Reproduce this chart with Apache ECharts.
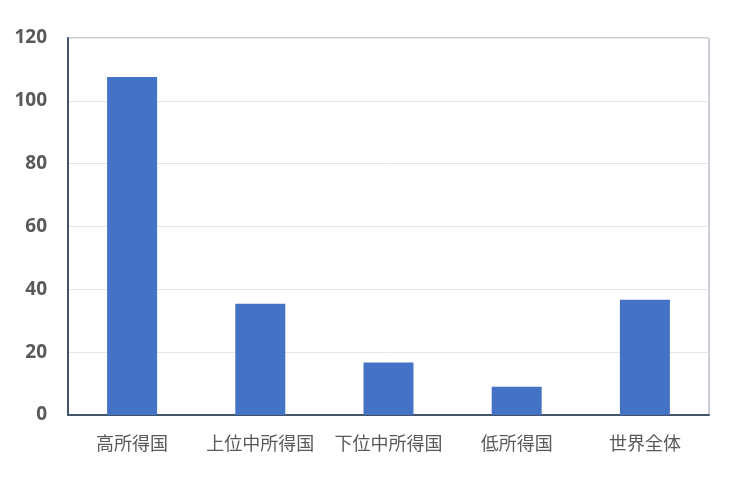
<!DOCTYPE html>
<html lang="ja">
<head>
  <meta charset="UTF-8">
  <title>所得グループ別</title>
  <script src="https://cdn.jsdelivr.net/npm/echarts@6/dist/echarts.min.js"></script>
  <style>
    body { margin: 0; padding: 0; background: #fff; }
  </style>
</head>
<body>
  <div id="chart" style="width: 745px; height: 485px;"></div>
  <script>
    var categories = ['高所得国', '上位中所得国', '下位中所得国', '低所得国', '世界全体'];
    var values = [107.6, 35.4, 16.7, 9.0, 36.7];
    var yTicks = { min: 0, max: 120, interval: 20 };

    var myChart = echarts.init(document.getElementById('chart'));
    var option = {
      animation: false,
      grid: {
        left: 68, right: 36, top: 38, bottom: 70,
        show: true,
        borderColor: '#97a0b0',
        borderWidth: 1
      },
      xAxis: {
        type: 'category',
        data: categories,
        axisLine: { lineStyle: { color: '#44546a', width: 2 } },
        axisTick: { show: false },
        axisLabel: {
          color: '#595959', fontSize: 18, margin: 19,
          fontFamily: 'Noto Sans CJK JP', interval: 0
        }
      },
      yAxis: {
        type: 'value',
        min: yTicks.min, max: yTicks.max, interval: yTicks.interval,
        axisLine: { show: true, lineStyle: { color: '#44546a', width: 2 } },
        axisTick: { show: false },
        splitLine: { lineStyle: { color: '#e6e6e6', width: 1 } },
        axisLabel: {
          color: '#595959', fontSize: 19, fontWeight: 'bold', margin: 21,
          fontFamily: 'Open Sans'
        }
      },
      series: [
        {
          type: 'bar',
          data: values,
          barWidth: '39%',
          itemStyle: { color: '#4472c4' }
        }
      ]
    };
    myChart.setOption(option);
  </script>
</body>
</html>
